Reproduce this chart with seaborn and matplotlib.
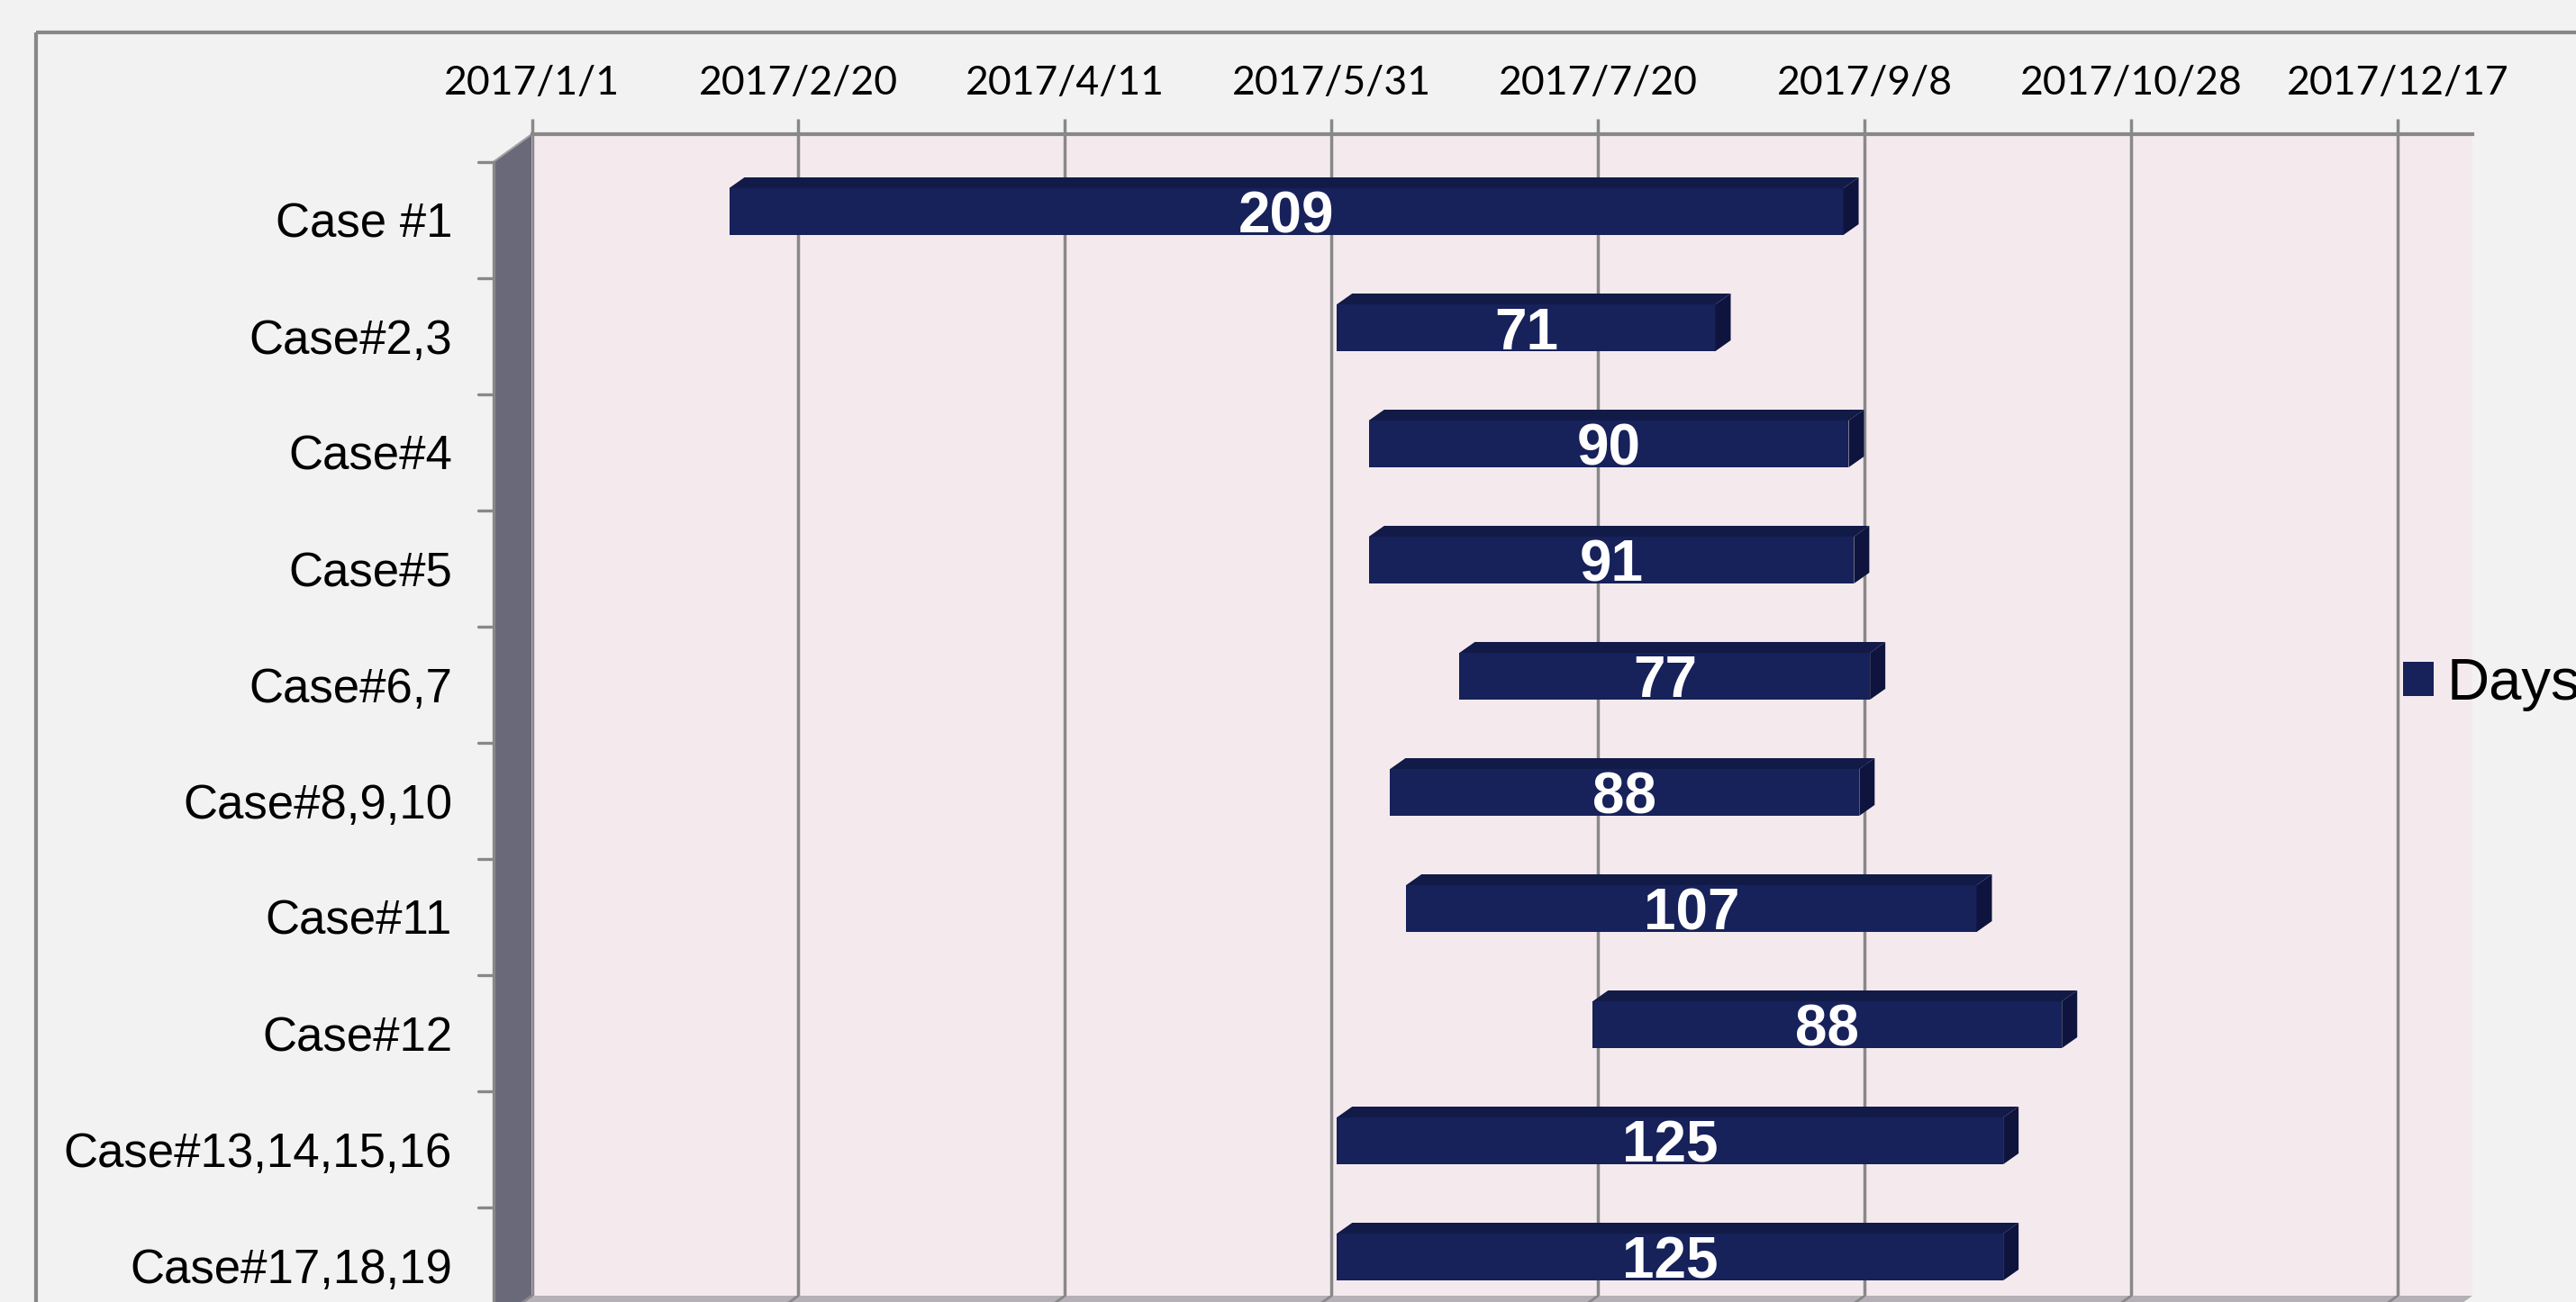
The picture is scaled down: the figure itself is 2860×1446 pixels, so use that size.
import matplotlib
matplotlib.use("Agg")
import matplotlib.pyplot as plt
import matplotlib.dates as mdates
from matplotlib.patches import Polygon, Rectangle
import seaborn as sns
import pandas as pd
import numpy as np

# ---------------- data ----------------
categories = ["Case #1", "Case#2,3", "Case#4", "Case#5", "Case#6,7",
              "Case#8,9,10", "Case#11", "Case#12", "Case#13,14,15,16", "Case#17,18,19"]
start_dates = ["2017-02-07", "2017-06-01", "2017-06-07", "2017-06-07", "2017-06-24",
               "2017-06-11", "2017-06-14", "2017-07-19", "2017-06-01", "2017-06-01"]
days = [209, 71, 90, 91, 77, 88, 107, 88, 125, 125]
axis_start = "2017-01-01"
axis_end = "2017-12-31"
tick_step_days = 50
n_ticks = 8
series_name = "Days"

# ---------------- style ----------------
sns.set_style("white")
plt.rcParams["font.family"] = ["Liberation Sans", "DejaVu Sans"]

BG = "#F2F2F2"
WALL = "#F4EAEE"
SIDEWALL = "#696979"
FLOOR = "#B5B0B5"
GRID = "#888888"
FRONT = "#17215A"
TOP = "#121A47"
SIDE = "#0E143D"

W, H, DPI = 2860, 1446, 100
fig = plt.figure(figsize=(W / DPI, H / DPI), dpi=DPI, facecolor=BG)

# geometry (pixels)
BX0, BX1 = 590.5, 2745.0      # back wall left/right
BY0, BY1 = 149.0, 1439.0      # back wall top/bottom
DX, DY = -43.0, 31.0          # front plane offset
CAT_PX = (BY1 - BY0) / len(categories)

# background / decoration layer
bg = fig.add_axes([0, 0, 1, 1], zorder=0)
bg.set_xlim(0, W)
bg.set_ylim(H, 0)
bg.axis("off")

# outer chart border
bg.add_patch(Rectangle((40, 36), 4000, 4000, fill=False, edgecolor=GRID, lw=3.0))
# left side wall
bg.add_patch(Polygon([(BX0 + DX, BY0 + DY), (BX0, BY0), (BX0, BY1), (BX0 + DX, BY1 + DY)],
                     closed=True, facecolor=SIDEWALL, edgecolor="none"))
bg.plot([BX0 + DX, BX0 + DX], [BY0 + DY, BY1 + DY], color=GRID, lw=2.4)
bg.plot([BX0 + DX, BX0], [BY0 + DY, BY0], color="#A0A0A0", lw=1.5)
# floor
bg.add_patch(Polygon([(BX0, BY1), (BX1, BY1), (BX1 + DX, BY1 + DY), (BX0 + DX, BY1 + DY)],
                     closed=True, facecolor=FLOOR, edgecolor="none"))
# category ticks on the front edge of the side wall
for k in range(len(categories) + 1):
    yk = BY0 + DY + k * CAT_PX
    bg.plot([BX0 + DX - 17, BX0 + DX], [yk, yk], color=GRID, lw=2.4)

# ---------------- main plot (back wall) ----------------
ax = fig.add_axes([BX0 / W, 1 - BY1 / H, (BX1 - BX0) / W, (BY1 - BY0) / H], zorder=1)
ax.set_facecolor(WALL)

df = pd.DataFrame({"Case": categories, "Start": pd.to_datetime(start_dates), "Days": days})

BAR_H = 52.0 / CAT_PX          # front face height in category units
YSHIFT = 21.5 / CAT_PX         # front face offset from back-plane centre
sns.barplot(data=df, x="Days", y="Case", orient="h", color=FRONT, saturation=1,
            width=BAR_H, ax=ax, label=series_name, linewidth=0, zorder=3)

x0 = mdates.date2num(pd.Timestamp(axis_start))
x1 = mdates.date2num(pd.Timestamp(axis_end))
px_per_day = (BX1 - BX0) / (x1 - x0)
ddx = 17.0 / px_per_day
ddy = 12.0 / CAT_PX

for p in ax.patches:
    i = int(round(p.get_y() + p.get_height() / 2))
    s = mdates.date2num(df["Start"].iloc[i])
    p.set_x(s)
    p.set_y(i + YSHIFT - BAR_H / 2)
    e = s + p.get_width()
    yt = p.get_y()
    yb = yt + BAR_H
    ax.add_patch(Polygon([(s, yt), (s + ddx, yt - ddy), (e + ddx, yt - ddy), (e, yt)],
                         closed=True, facecolor=TOP, edgecolor="none", zorder=3))
    ax.add_patch(Polygon([(e, yt), (e + ddx, yt - ddy), (e + ddx, yb - ddy), (e, yb)],
                         closed=True, facecolor=SIDE, edgecolor="none", zorder=3))

texts = ax.bar_label(ax.containers[0], labels=[str(d) for d in days], label_type="center",
                     color="white", fontsize=46, fontweight="bold", zorder=4)
for t in texts:
    t.set_va("center_baseline")

ax.set_xlim(x0, x1)
ax.set_ylim(len(categories) - 0.5, -0.5)

# x axis on top with date labels
ticks = [x0 + k * tick_step_days for k in range(n_ticks)]
tick_labels = []
for t in ticks:
    d = mdates.num2date(t)
    tick_labels.append(f"{d.year}/{d.month}/{d.day}")
ax.set_xticks(ticks)
ax.set_xticklabels(tick_labels, fontfamily="Lato", fontsize=32, color="black")
ax.xaxis.tick_top()
ax.tick_params(axis="x", which="major", top=True, bottom=False, labeltop=True,
               labelbottom=False, length=12.2, width=2.5, color=GRID, pad=14)
ax.grid(axis="x", color=GRID, lw=2.5)
ax.grid(axis="y", visible=False)
ax.set_axisbelow(True)

# category labels (positioned at the front plane)
ax.set_yticks(np.arange(len(categories)) + DY / CAT_PX)
ax.set_yticklabels(categories, fontsize=38, color="black")
ax.tick_params(axis="y", length=0, pad=(BX0 - 502) * 72 / DPI)

ax.set_xlabel("")
ax.set_ylabel("")
for side in ["left", "right", "bottom"]:
    ax.spines[side].set_visible(False)
ax.spines["top"].set_visible(True)
ax.spines["top"].set_color(GRID)
ax.spines["top"].set_linewidth(3.0)

# floor grid continuation
for t in ticks:
    xp = BX0 + (t - x0) * px_per_day
    bg.plot([xp, xp + DX], [BY1, BY1 + DY], color=GRID, lw=2.0)

# legend
handles, labels = ax.get_legend_handles_labels()
leg = ax.legend(handles, labels, loc="center left", bbox_to_anchor=(2668 / W, 1 - 760 / H),
                bbox_transform=fig.transFigure, frameon=False, fontsize=47,
                handlelength=0.52, handleheight=0.52, handletextpad=0.22,
                borderpad=0, borderaxespad=0)
for txt in leg.get_texts():
    txt.set_color("black")

fig.savefig("out.png", dpi=DPI, facecolor=BG)
